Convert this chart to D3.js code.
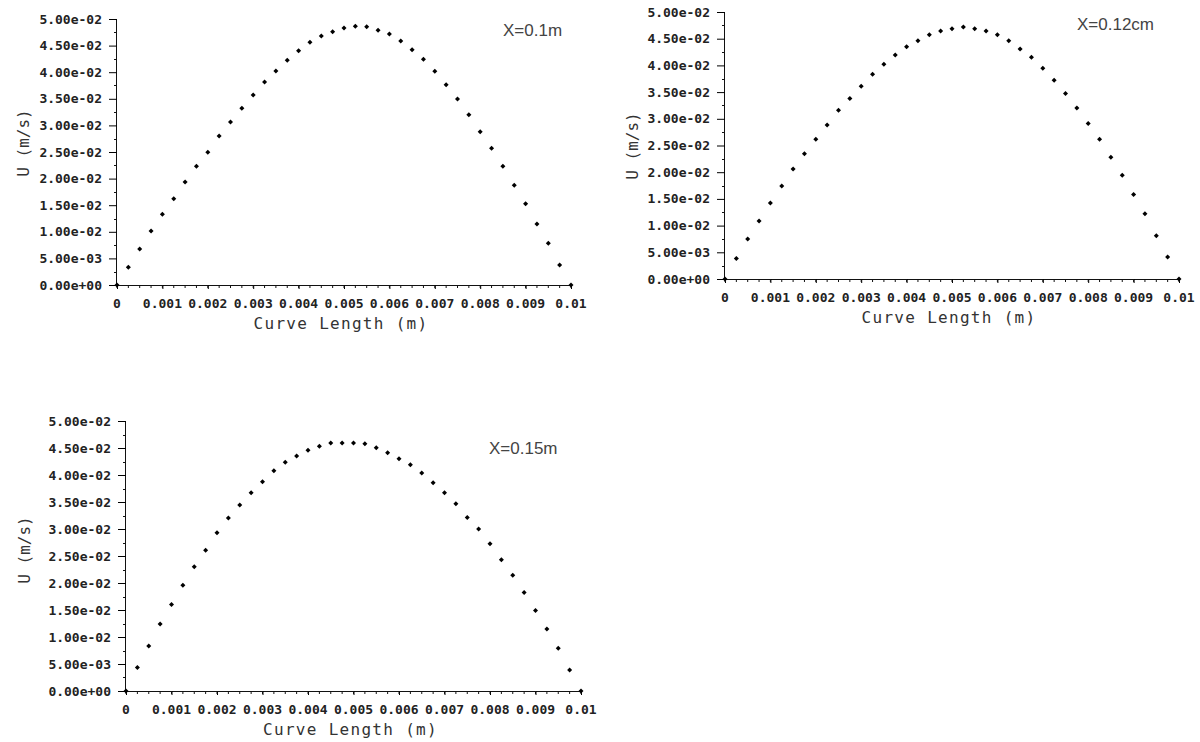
<!DOCTYPE html>
<html lang="en">
<head>
<meta charset="utf-8">
<title>U velocity profiles</title>
<script src="https://d3js.org/d3.v7.min.js"></script>
<style>
    body { margin: 0; background: #fff; }
    .axis-title { font-family: "DejaVu Sans Mono", monospace; font-size: 16px; fill: #333; }
    .note { font-family: "Liberation Sans", Arial, sans-serif; font-size: 17px; fill: #444; }
    .tick-label { font-family: "DejaVu Sans Mono", monospace; font-size: 13px; font-weight: bold; fill: #222; }
</style>
</head>
<body>
<div id="chart"></div>
<script>
// curve length positions (m)
var curveLength = [0, 0.00025, 0.0005, 0.00075, 0.001, 0.00125, 0.0015, 0.00175, 0.002, 0.00225,
    0.0025, 0.00275, 0.003, 0.00325, 0.0035, 0.00375, 0.004, 0.00425, 0.0045, 0.00475,
    0.005, 0.00525, 0.0055, 0.00575, 0.006, 0.00625, 0.0065, 0.00675, 0.007, 0.00725,
    0.0075, 0.00775, 0.008, 0.00825, 0.0085, 0.00875, 0.009, 0.00925, 0.0095, 0.00975, 0.01];

// U (m/s) at X=0.1m
var u1 = [0, 0.00333, 0.00677, 0.01015, 0.01329, 0.01623, 0.01936, 0.02231, 0.02497, 0.0280,
    0.03064, 0.03321, 0.03571, 0.03816, 0.04023, 0.04223, 0.04404, 0.04562, 0.0468, 0.04762,
    0.0483, 0.04862, 0.04856, 0.04787, 0.04718, 0.04586, 0.04423, 0.04242, 0.04017, 0.03765,
    0.03496, 0.03201, 0.02882, 0.0257, 0.02231, 0.01874, 0.01528, 0.01147, 0.00784, 0.00376, 0];

// U (m/s) at X=0.12cm
var u2 = [0, 0.00385, 0.00748, 0.01085, 0.01422, 0.0174, 0.02058, 0.02344, 0.02619, 0.02886,
    0.03161, 0.03378, 0.0361, 0.03835, 0.04022, 0.04196, 0.04351, 0.04463, 0.04575, 0.04645,
    0.04688, 0.0472, 0.04688, 0.04645, 0.04575, 0.04463, 0.04308, 0.04153, 0.03947, 0.03722,
    0.03472, 0.03204, 0.02911, 0.02619, 0.02282, 0.01945, 0.01583, 0.01222, 0.0081, 0.00412, 0];

// U (m/s) at X=0.15m
var u3 = [0, 0.00434, 0.00834, 0.01242, 0.01602, 0.0196, 0.023, 0.02608, 0.0293, 0.03202,
    0.03443, 0.03671, 0.03875, 0.04079, 0.04234, 0.04351, 0.04457, 0.04531, 0.04592, 0.04592,
    0.04592, 0.04579, 0.04505, 0.04412, 0.04301, 0.0419, 0.04036, 0.03856, 0.03671, 0.03467,
    0.03215, 0.02998, 0.02725, 0.02429, 0.02145, 0.01824, 0.01491, 0.01149, 0.00792, 0.00389, 0];

var yTickValues = [0, 0.005, 0.01, 0.015, 0.02, 0.025, 0.03, 0.035, 0.04, 0.045, 0.05];
var yTickLabels = ["0.00e+00", "5.00e-03", "1.00e-02", "1.50e-02", "2.00e-02", "2.50e-02",
    "3.00e-02", "3.50e-02", "4.00e-02", "4.50e-02", "5.00e-02"];
var xTickValues = [0, 0.001, 0.002, 0.003, 0.004, 0.005, 0.006, 0.007, 0.008, 0.009, 0.01];
var xTickLabels = ["0", "0.001", "0.002", "0.003", "0.004", "0.005", "0.006", "0.007", "0.008", "0.009", "0.01"];

var notes = ["X=0.1m", "X=0.12cm", "X=0.15m"];

var w = 1200, h = 742;

var svg = d3.select("#chart")
    .append("svg")
    .attr("width", w)
    .attr("height", h);

// panel boxes (plot area) and where the side texts go
var panels = [
    {data: u1, note: notes[0], left: 117, right: 571, top: 19, bottom: 285, noteX: 503, noteY: 36, ylabX: 23, ylabY: 143},
    {data: u2, note: notes[1], left: 725, right: 1179, top: 12, bottom: 279, noteX: 1077, noteY: 30, ylabX: 632, ylabY: 146},
    {data: u3, note: notes[2], left: 126, right: 581, top: 421, bottom: 691, noteX: 489, noteY: 454, ylabX: 24, ylabY: 550}
];

var drawPanel = function (p) {
    var xScale = d3.scaleLinear().domain([0, 0.01]).range([p.left, p.right]);
    var yScale = d3.scaleLinear().domain([0, 0.05]).range([p.bottom, p.top]);

    var g = svg.append("g");

    // x axis: small ticks pointing down, labels added below
    var xAxis = d3.axisBottom(xScale)
        .tickValues(xTickValues)
        .tickSize(4)
        .tickFormat("");
    var gx = g.append("g")
        .attr("transform", "translate(0," + p.bottom + ")")
        .call(xAxis);
    gx.select(".domain").attr("stroke", "#111").attr("d", "M" + p.left + ",0.5H" + p.right);

    g.selectAll(".xlab")
        .data(xTickValues)
        .enter()
        .append("text")
        .attr("class", "tick-label")
        .attr("x", function (d) { return xScale(d); })
        .attr("y", p.bottom + 23)
        .attr("text-anchor", "middle")
        .text(function (d, i) { return xTickLabels[i]; });

    // minor x ticks
    g.selectAll(".xminor")
        .data(curveLength)
        .enter()
        .append("line")
        .attr("x1", function (d) { return xScale(d); })
        .attr("x2", function (d) { return xScale(d); })
        .attr("y1", p.bottom)
        .attr("y2", p.bottom + 3)
        .attr("stroke", "#111");

    // y axis: ticks pointing left
    var yAxis = d3.axisLeft(yScale)
        .tickValues(yTickValues)
        .tickSize(8)
        .tickFormat("");
    var gy = g.append("g")
        .attr("transform", "translate(" + p.left + ",0)")
        .call(yAxis);
    gy.select(".domain").attr("stroke", "#111").attr("d", "M-0.5," + p.top + "V" + p.bottom);

    g.selectAll(".ylab")
        .data(yTickValues)
        .enter()
        .append("text")
        .attr("class", "tick-label")
        .attr("x", p.left - 15)
        .attr("y", function (d) { return yScale(d) + 4.5; })
        .attr("text-anchor", "end")
        .text(function (d, i) { return yTickLabels[i]; });

    var minorY = d3.range(0.0025, 0.05, 0.005);
    g.selectAll(".yminor")
        .data(minorY)
        .enter()
        .append("line")
        .attr("x1", p.left - 3)
        .attr("x2", p.left)
        .attr("y1", function (d) { return Math.round(yScale(d)) + 0.5; })
        .attr("y2", function (d) { return Math.round(yScale(d)) + 0.5; })
        .attr("stroke", "#111");

    // axis titles
    g.append("text")
        .attr("class", "axis-title")
        .attr("x", (p.left + p.right) / 2 - 3)
        .attr("y", p.bottom + 44)
        .attr("text-anchor", "middle")
        .style("letter-spacing", "1.3px")
        .text("Curve Length (m)");

    g.append("text")
        .attr("class", "axis-title")
        .attr("transform", "translate(" + (p.ylabX + 6) + "," + p.ylabY + ") rotate(-90)")
        .attr("text-anchor", "middle")
        .text("U (m/s)");

    // note
    g.append("text")
        .attr("class", "note")
        .attr("x", p.noteX)
        .attr("y", p.noteY)
        .text(p.note);

    // points
    var diamond = d3.symbol().type(d3.symbolDiamond2).size(16);
    g.selectAll(".pt")
        .data(p.data)
        .enter()
        .append("path")
        .attr("d", diamond)
        .attr("transform", function (d, i) {
            return "translate(" + xScale(curveLength[i]) + "," + yScale(d) + ")";
        })
        .attr("fill", "#000");
};

panels.forEach(drawPanel);
</script>
</body>
</html>
